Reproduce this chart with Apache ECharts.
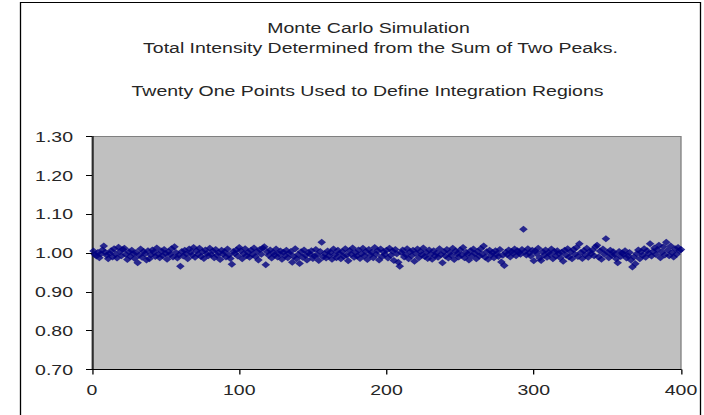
<!DOCTYPE html>
<html>
<head>
<meta charset="utf-8">
<script src="https://cdn.jsdelivr.net/npm/echarts@6/dist/echarts.min.js"></script>
<style>
  html, body { margin: 0; padding: 0; background: #fff; overflow: hidden; }
  #wrap { width: 704px; height: 415px; overflow: hidden; }
  #chart { height: 415px; transform-origin: 0 0; }
</style>
</head>
<body>
<div id="wrap"><div id="chart"></div></div>
<script>
// Horizontal stretch of the whole chart (wide Excel-style rendering)
const STRETCH = 1.3;
const PAGE_W = 704, PAGE_H = 415;
const W = PAGE_W / STRETCH;

const titleLines = [
  'Monte Carlo Simulation',
  'Total Intensity Determined from the Sum of Two Peaks.',
  'Twenty One Points Used to Define Integration Regions'
];

const xTicks = [0, 100, 200, 300, 400];
const yTicks = [0.70, 0.80, 0.90, 1.00, 1.10, 1.20, 1.30];

// Normalised total intensity for simulation runs 1..400
const intensity = [
  1.005, 0.996, 0.992, 1.001, 0.988, 0.998, 1.008, 1.018, 1.002, 0.994, 0.985, 0.999, 1.006, 0.990, 1.011, 0.997, 0.987, 1.015, 1.004, 0.993,
  1.009, 1.012, 0.996, 0.983, 1.003, 0.991, 1.007, 0.999, 0.986, 1.001, 0.975, 0.994, 1.010, 0.989, 1.004, 0.998, 0.982, 1.006, 0.985, 0.995,
  1.008, 1.002, 0.991, 1.013, 0.997, 0.988, 1.005, 0.993, 1.009, 0.999, 0.984, 1.003, 0.996, 1.011, 0.990, 1.016, 1.001, 0.987, 0.995, 0.966,
  1.004, 0.992, 1.007, 0.998, 0.985, 1.010, 1.002, 0.994, 1.014, 0.989, 1.006, 0.997, 1.012, 0.991, 1.003, 0.986, 1.008, 0.999, 0.993, 1.012,
  0.996, 1.005, 0.988, 1.009, 0.994, 1.001, 0.983, 1.007, 0.997, 1.003, 0.990, 1.010, 0.995, 0.986, 0.971, 1.004, 0.999, 1.008, 0.992, 1.014,
  1.006, 0.985, 0.998, 1.011, 0.993, 1.002, 0.989, 1.007, 0.996, 1.013, 0.991, 1.004, 0.982, 1.009, 0.997, 1.012, 1.016, 0.970, 1.003, 0.994,
  1.008, 0.987, 1.001, 0.995, 1.010, 0.990, 0.998, 1.005, 0.984, 1.002, 0.993, 1.007, 0.988, 0.999, 1.004, 0.976, 0.991, 1.011, 0.985, 0.996,
  0.973, 1.003, 0.989, 1.008, 0.994, 0.982, 1.001, 0.997, 1.006, 0.986, 0.992, 1.009, 0.995, 0.981, 1.004, 1.028, 0.990, 0.998, 0.987, 1.005,
  0.993, 1.002, 0.984, 1.010, 0.996, 0.988, 1.007, 0.999, 0.985, 1.003, 0.991, 1.011, 0.994, 0.980, 1.006, 0.997, 1.013, 0.989, 1.001, 0.992,
  1.008, 0.986, 0.998, 1.012, 0.993, 1.004, 0.983, 1.009, 0.995, 1.002, 0.988, 1.014, 0.997, 1.006, 0.982, 1.010, 0.991, 1.003, 0.996, 1.007,
  0.987, 1.012, 0.994, 1.005, 0.981, 1.009, 0.998, 0.976, 0.966, 1.001, 1.008, 0.990, 0.996, 1.011, 0.985, 1.003, 0.993, 1.007, 0.979, 0.999,
  1.010, 0.988, 1.004, 0.995, 1.013, 0.991, 1.002, 0.986, 1.008, 0.997, 0.984, 1.006, 0.993, 1.000, 0.989, 1.011, 0.996, 0.975, 1.003, 0.992,
  1.009, 0.987, 1.001, 0.994, 1.012, 0.983, 1.005, 0.998, 0.990, 1.008, 0.995, 1.014, 0.988, 1.002, 0.997, 0.982, 1.006, 0.993, 1.010, 0.999,
  0.985, 1.004, 0.992, 1.011, 0.996, 1.018, 0.989, 1.003, 0.984, 1.007, 0.995, 1.001, 0.988, 1.006, 0.998, 0.991, 1.009, 0.977, 0.994, 0.968,
  1.002, 0.996, 1.008, 0.990, 1.004, 0.999, 1.010, 0.993, 1.006, 1.001, 0.997, 1.009, 1.061, 1.003, 0.995, 1.011, 1.000, 0.992, 1.007, 0.980,
  1.005, 0.998, 1.012, 0.987, 0.981, 1.003, 0.994, 1.008, 0.989, 1.001, 0.996, 1.010, 0.985, 1.004, 0.992, 1.006, 0.999, 0.988, 1.002, 0.979,
  1.007, 0.994, 1.011, 0.990, 1.003, 0.985, 1.009, 0.997, 1.014, 0.991, 1.024, 1.001, 0.986, 1.006, 0.995, 1.012, 0.989, 1.004, 0.998, 1.008,
  0.993, 1.016, 1.020, 0.990, 1.005, 0.984, 1.010, 0.997, 1.037, 1.002, 0.988, 1.007, 0.994, 1.003, 0.996, 0.985, 0.975, 1.004, 0.991, 1.000,
  0.997, 1.006, 0.987, 0.993, 1.001, 0.982, 0.964, 0.990, 0.972, 0.998, 1.008, 0.985, 1.003, 0.994, 1.011, 0.989, 1.006, 0.999, 1.024, 0.992,
  1.004, 1.013, 0.996, 1.009, 1.020, 0.988, 1.002, 1.016, 0.995, 1.028, 1.007, 0.993, 1.018, 1.001, 0.990, 1.011, 0.997, 1.014, 1.006, 1.009
];

const points = intensity.map((v, i) => [i + 1, v]);

const chartEl = document.getElementById('chart');
chartEl.style.width = W + 'px';
chartEl.style.transform = 'scaleX(' + STRETCH + ')';

const FONT = '"Liberation Sans", Arial, sans-serif';
const TEXT = '#262626';
const sx = px => px / STRETCH;   // page x -> chart x

const chart = echarts.init(chartEl, null, { renderer: 'svg', width: W, height: PAGE_H });

const titleStyle = { fontFamily: FONT, fontSize: 15, fontWeight: 'normal', color: TEXT };

chart.setOption({
  animation: false,
  backgroundColor: '#ffffff',
  title: [
    { text: titleLines[0], left: sx(362), top: 15, textAlign: 'center', textStyle: titleStyle },
    { text: titleLines[1], left: sx(374), top: 35, textAlign: 'center', textStyle: titleStyle },
    { text: titleLines[2], left: sx(361), top: 78, textAlign: 'center', textStyle: titleStyle }
  ],
  graphic: [
    { type: 'polyline', silent: true,
      shape: { points: [[sx(20.5), PAGE_H + 2], [sx(20.5), 2.5], [sx(700.5), 2.5], [sx(700.5), PAGE_H + 2]] },
      style: { stroke: '#000', lineWidth: 1, fill: null } }
  ],
  grid: {
    left: sx(92), right: W - sx(681), top: 136.5, bottom: PAGE_H - 369.5,
    show: true, backgroundColor: '#c0c0c0', borderColor: '#808080', borderWidth: 1
  },
  xAxis: {
    type: 'value', min: xTicks[0], max: xTicks[xTicks.length - 1], interval: 100,
    axisLine: { show: true, onZero: false, lineStyle: { color: '#000', width: 1 } },
    axisTick: { show: true, inside: false, length: 5, lineStyle: { color: '#000' } },
    axisLabel: { fontFamily: FONT, fontSize: 15, color: TEXT, margin: 13 },
    splitLine: { show: false }
  },
  yAxis: {
    type: 'value', min: yTicks[0], max: yTicks[yTicks.length - 1], interval: 0.1,
    axisLine: { show: true, onZero: false, lineStyle: { color: '#000', width: 1 } },
    axisTick: { show: true, inside: false, length: sx(6), lineStyle: { color: '#000' } },
    axisLabel: { fontFamily: FONT, fontSize: 15, color: TEXT, margin: sx(19),
      formatter: v => v.toFixed(2) },
    splitLine: { show: false }
  },
  series: [{
    type: 'scatter',
    data: points,
    symbol: 'diamond',
    symbolSize: [6.6, 7],
    itemStyle: { color: '#000080' }
  }]
});
</script>
</body>
</html>
